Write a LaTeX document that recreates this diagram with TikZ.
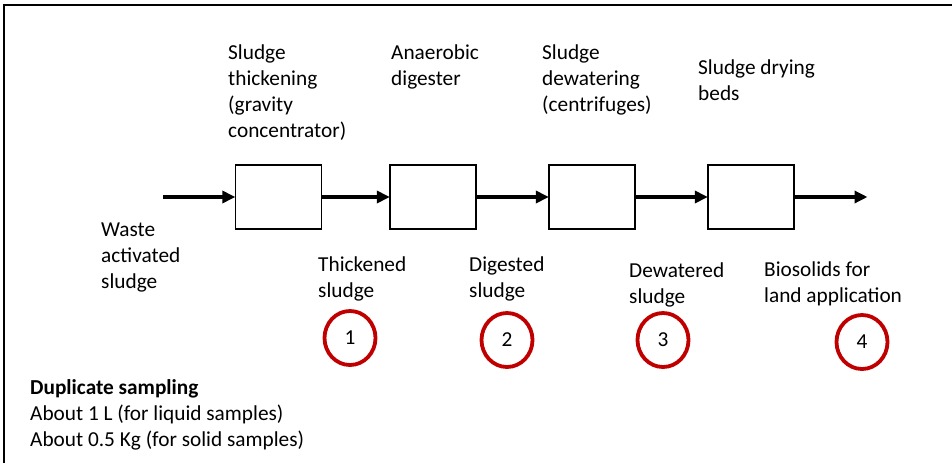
\documentclass[tikz,border=0pt]{standalone}
\usepackage{fontspec}
\setmainfont{Carlito}
\usetikzlibrary{arrows.meta,shapes.geometric}
\definecolor{sampred}{HTML}{C00000}
\tikzset{
  unitbox/.style={draw, line width=1.3pt, minimum width=86pt, minimum height=64pt, inner sep=0pt},
  flow/.style={line width=4pt, -{Triangle[length=13pt,width=12pt]}, shorten >=-0.5pt},
  lbl/.style={anchor=base west, align=left, inner sep=0pt, font=\fontsize{21.3}{26}\selectfont},
  samp/.style={draw=sampred, line width=3.8pt, ellipse, minimum width=51pt, minimum height=54pt, inner sep=0pt, font=\fontsize{21.3}{24}\selectfont},
}
\begin{document}
\begin{tikzpicture}[x=1pt,y=-1pt]
\useasboundingbox (0,0) rectangle (952,463);
\fill[white] (0,0) rectangle (952,463);
\draw[line width=2pt] (4,463) -- (4,5) -- (952,5);

\node[unitbox] (b1) at (278.5,197) {};
\node[unitbox] (b2) at (433,197) {};
\node[unitbox] (b3) at (592,197) {};
\node[unitbox] (b4) at (751,197) {};
\coordinate (in) at (163,197);
\coordinate (out) at (867,197);
\draw[flow] (in) -- (b1.west);
\draw[flow] (b1.east) -- (b2.west);
\draw[flow] (b2.east) -- (b3.west);
\draw[flow] (b3.east) -- (b4.west);
\draw[flow] (b4.east) -- (out);

% anchors give the baseline of the last line of each text
\node[lbl] (t1) at (228,137) {Sludge\\thickening\\(gravity\\concentrator)};
\node[lbl] (t2) at (391,85) {Anaerobic\\digester};
\node[lbl] (t3) at (542,111) {Sludge\\dewatering\\(centrifuges)};
\node[lbl] (t4) at (698,100) {Sludge drying\\beds};

\node[lbl] (w) at (101,288) {Waste\\activated\\sludge};
\node[lbl] (s1) at (318,297) {Thickened\\sludge};
\node[lbl] (s2) at (469,297) {Digested\\sludge};
\node[lbl] (s3) at (629,303) {Dewatered\\sludge};
\node[lbl] (s4) at (764,302) {Biosolids for\\land application};

\node[samp] (c1) at (350,338) {1};
\node[samp] (c2) at (507,340) {2};
\node[samp] (c3) at (663,340) {3};
\node[samp] (c4) at (862,342) {4};

\node[lbl] (note) at (30,446) {\textbf{Duplicate sampling}\\About 1 L (for liquid samples)\\About 0.5 Kg (for solid samples)};
\end{tikzpicture}
\end{document}
